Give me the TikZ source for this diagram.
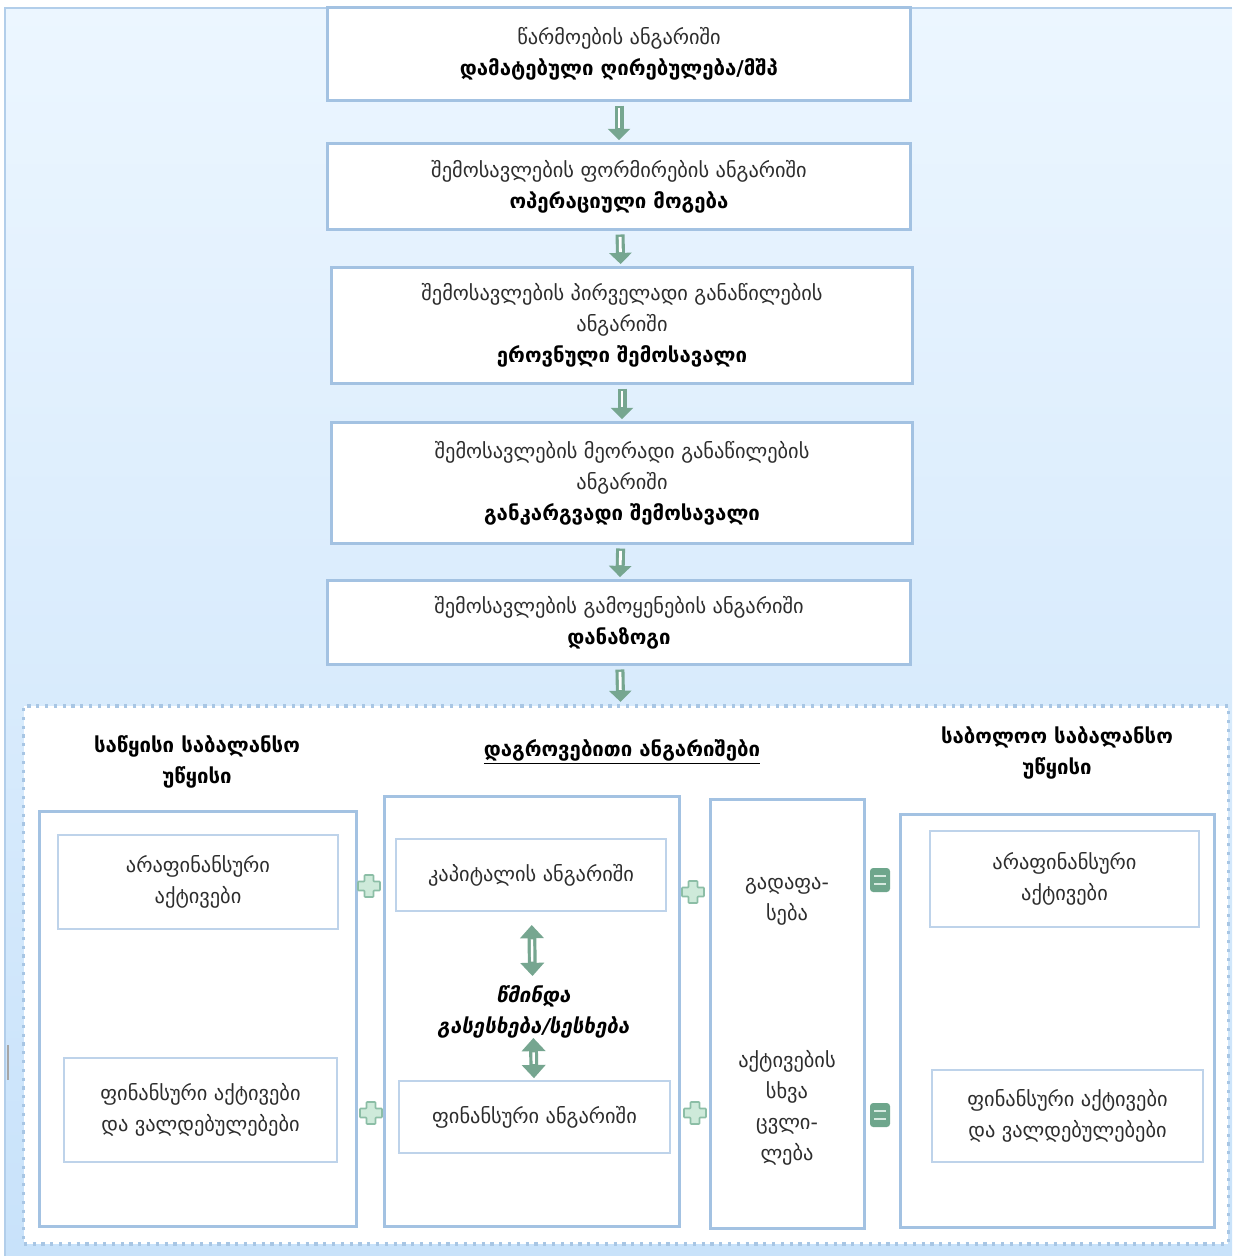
\documentclass[tikz,border=0pt]{standalone}
\usepackage{fontspec}
\setmainfont{DejaVu Sans}
\newfontfamily\slbold{DejaVu Sans Bold}[FakeSlant=0.2]
\usetikzlibrary{arrows.meta}
\definecolor{boxblue}{RGB}{163,194,226}
\definecolor{innerblue}{RGB}{190,211,234}
\definecolor{dotblue}{RGB}{168,198,228}
\definecolor{arrgreen}{RGB}{118,166,144}
\definecolor{plusfill}{RGB}{206,234,218}
\definecolor{plusline}{RGB}{140,190,166}
\definecolor{eqfill}{RGB}{110,166,140}
\definecolor{eqline}{RGB}{214,234,224}
\definecolor{bgtop}{RGB}{236,246,255}
\definecolor{bgbot}{RGB}{200,226,250}
\definecolor{bgline}{RGB}{178,206,234}
\definecolor{txtgray}{RGB}{45,45,45}
\tikzset{
	topbox/.style={draw=boxblue,line width=0.075cm,fill=white,align=center,minimum width=14.55cm},
	colbox/.style={draw=boxblue,line width=0.075cm,fill=white},
	innerbox/.style={draw=innerblue,line width=0.04cm,fill=white,align=center},
	hdr/.style={align=center,font=\fontsize{14.5}{22}\selectfont\bfseries,text=black},
	downarr/.style={draw=arrgreen,line width=0.225cm,-{Triangle[width=0.55cm,length=0.28cm]},shorten <=0.1cm,shorten >=0.06cm,
		postaction={draw=white,line width=0.07cm,-,shorten <=0.16cm,shorten >=0.36cm}},
	updownarr/.style 2 args={draw=arrgreen,line width=0.22cm,{Triangle[width=0.58cm,length=0.33cm]}-{Triangle[width=0.58cm,length=0.33cm]},shorten <=#1,shorten >=#2,
		postaction={draw=white,line width=0.06cm,-,shorten <=#1+0.36cm,shorten >=#2+0.36cm}},
	plussign/.pic={\filldraw[fill=plusfill,draw=plusline,line width=0.04cm,rounded corners=0.02cm] (-4.5,-11) -- (4.5,-11) -- (4.5,-4.5) -- (11,-4.5) -- (11,4.5) -- (4.5,4.5) -- (4.5,11) -- (-4.5,11) -- (-4.5,4.5) -- (-11,4.5) -- (-11,-4.5) -- (-4.5,-4.5) -- cycle;},
	eqsign/.pic={\fill[eqfill,rounded corners=0.08cm] (-10,-12) rectangle (10,12); \draw[eqline,line width=0.05cm] (-6,-4) -- (6,-4) (-6,4) -- (6,4);}
}
\begin{document}
\begin{tikzpicture}[x=0.025cm,y=-0.025cm,font=\fontsize{14.5}{22}\selectfont,text=txtgray]
	\useasboundingbox (0,0) rectangle (1232,1256);
	\fill[top color=bgtop,bottom color=bgbot] (5,8) rectangle (1232,1256);
	\draw[bgline,line width=0.05cm] (5,1256) -- (5,8) -- (1232,8);
	\draw[gray!70,line width=0.05cm] (8,1045) -- (8,1080);
	\node[draw=dotblue,fill=white,line width=0.08cm,dash pattern=on 0.08cm off 0.14cm,minimum width=30.1cm,minimum height=13.45cm] (acc) at (626,975) {};
	\node[topbox,minimum height=2.3cm] (b1) at (619,54) {წარმოების ანგარიში\\\textbf{\color{black}დამატებული ღირებულება/მშპ}};
	\node[topbox,minimum height=2.125cm] (b2) at (619,186.5) {შემოსავლების ფორმირების ანგარიში\\\textbf{\color{black}ოპერაციული მოგება}};
	\node[topbox,minimum width=14.5cm,minimum height=2.875cm] (b3) at (622,325.5) {შემოსავლების პირველადი განაწილების\\ანგარიში\\\textbf{\color{black}ეროვნული შემოსავალი}};
	\node[topbox,minimum width=14.5cm,minimum height=3cm] (b4) at (622,483) {შემოსავლების მეორადი განაწილების\\ანგარიში\\\textbf{\color{black}განკარგვადი შემოსავალი}};
	\node[topbox,minimum height=2.075cm] (b5) at (619,622.5) {შემოსავლების გამოყენების ანგარიში\\\textbf{\color{black}დანაზოგი}};
	\draw[downarr] (b1) -- (b2);
	\draw[downarr] (b2) -- (b3);
	\draw[downarr] (b3) -- (b4);
	\draw[downarr] (b4) -- (b5);
	\draw[downarr] (b5) -- (acc);
	\node[hdr] (h1) at (197,762) {საწყისი საბალანსო\\უწყისი};
	\node[hdr] (h2) at (622,752) {\underline{დაგროვებითი ანგარიშები}};
	\node[hdr] (h3) at (1057,753) {საბოლოო საბალანსო\\უწყისი};
	\node[colbox,minimum width=7.9cm,minimum height=10.35cm] (c1) at (198,1019) {};
	\node[colbox,minimum width=7.35cm,minimum height=10.725cm] (c2) at (532,1011.5) {};
	\node[colbox,minimum width=3.825cm,minimum height=10.7cm] (c3) at (787.5,1014) {};
	\node[colbox,minimum width=7.825cm,minimum height=10.3cm] (c4) at (1057.5,1021) {};
	\node[innerbox,minimum width=7cm,minimum height=2.35cm] (i1) at (198,882) {არაფინანსური\\აქტივები};
	\node[innerbox,minimum width=6.825cm,minimum height=2.6cm] (i2) at (200.5,1110) {ფინანსური აქტივები\\და ვალდებულებები};
	\node[innerbox,minimum width=6.75cm,minimum height=1.8cm] (i3) at (531,875) {კაპიტალის ანგარიში};
	\node[innerbox,minimum width=6.775cm,minimum height=1.8cm] (i4) at (534.5,1117) {ფინანსური ანგარიში};
	\node[innerbox,minimum width=6.725cm,minimum height=2.4cm] (i5) at (1064.5,879) {არაფინანსური\\აქტივები};
	\node[innerbox,minimum width=6.775cm,minimum height=2.3cm] (i6) at (1067.5,1116) {ფინანსური აქტივები\\და ვალდებულებები};
	\node[align=center,inner sep=1pt,font=\fontsize{14.5}{22}\selectfont\slbold,text=black] (net) at (533,1012) {წმინდა\\გასესხება/სესხება};
	\draw[updownarr={0.33cm}{0.2cm}] (i3) -- (net);
	\draw[updownarr={-0.05cm}{0.05cm}] (net) -- (i4);
	\node[align=center] (t1) at (787,901) {გადაფა-\\სება};
	\node[align=center] (t2) at (787,1108) {აქტივების\\სხვა\\ცვლი-\\ლება};
	\pic at (369,886) {plussign};
	\pic at (371,1113) {plussign};
	\pic at (693,892) {plussign};
	\pic at (695,1113) {plussign};
	\pic at (880,880) {eqsign};
	\pic at (880,1115) {eqsign};
\end{tikzpicture}
\end{document}
